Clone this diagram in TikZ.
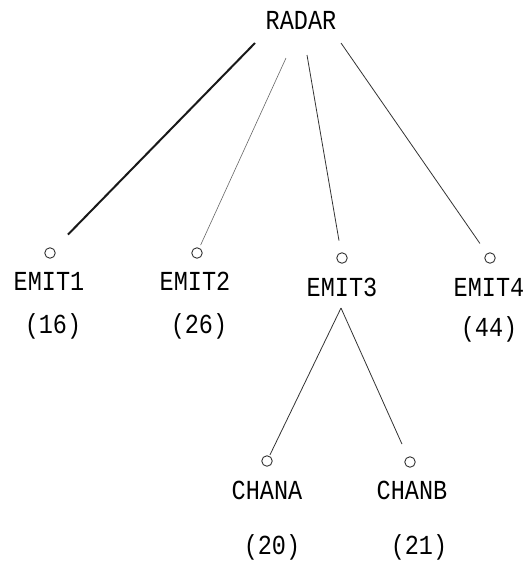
\documentclass[tikz,border=0pt]{standalone}
\usepackage{fontspec}
\newfontfamily\typewriter{Liberation Mono}
% typewriter glyphs are a little taller than Courier's
\newcommand\tall[1]{\scalebox{1}[1.17]{#1}}
\begin{document}
\begin{tikzpicture}[x=1pt,y=-1pt,
  lbl/.style={font=\typewriter\fontsize{23.5}{26}\selectfont, inner sep=0pt, anchor=center, text=black},
  leaf/.style={circle, draw=black!80, line width=0.9pt, minimum size=10.5pt, inner sep=0pt},
  branch/.style={draw=black!80, line width=0.8pt},
  heavy/.style={draw=black!90, line width=2pt}
]
\useasboundingbox (0,0) rectangle (528,565);

% root
\node[lbl] (radar) at (301,20) {\tall{RADAR}};
\coordinate (r1) at (255,43);
\coordinate (r2) at (286,58);
\coordinate (r3) at (307,55);
\coordinate (r4) at (341,43);

% first level
\node[leaf] (c1) at (50,253) {};
\node[leaf] (c2) at (197,253) {};
\node[leaf] (c3) at (342,258) {};
\node[leaf] (c4) at (490,258) {};

\node[lbl] (e1) at (49,281) {\tall{EMIT1}};
\node[lbl] (e2) at (195,281) {\tall{EMIT2}};
\node[lbl] (e3) at (342,287) {\tall{EMIT3}};
\node[lbl] (e4) at (489,287) {\tall{EMIT4}};

\node[lbl] (n1) at (53,326) {\tall{(16)}};
\node[lbl] (n2) at (199,326) {\tall{(26)}};
\node[lbl] (n4) at (489,329) {\tall{(44)}};

% second level under EMIT3
\coordinate (a3) at (341,308);
\node[leaf] (ca) at (267,461) {};
\node[leaf] (cb) at (410,462) {};

\node[lbl] (la) at (267,490) {\tall{CHANA}};
\node[lbl] (lb) at (412,490) {\tall{CHANB}};

\node[lbl] (na) at (272,547) {\tall{(20)}};
\node[lbl] (nb) at (419,547) {\tall{(21)}};

% connectors
\draw[heavy, shorten >=20pt] (r1) -- (c1);
\draw[branch, draw=black!60, line width=0.6pt, shorten >=3pt] (r2) -- (c2);
\draw[branch, shorten >=12pt] (r3) -- (c3);
\draw[branch, shorten >=12pt] (r4) -- (c4);
\draw[branch, shorten >=1pt] (a3) -- (ca);
\draw[branch, shorten >=14pt] (a3) -- (cb);
\end{tikzpicture}
\end{document}
